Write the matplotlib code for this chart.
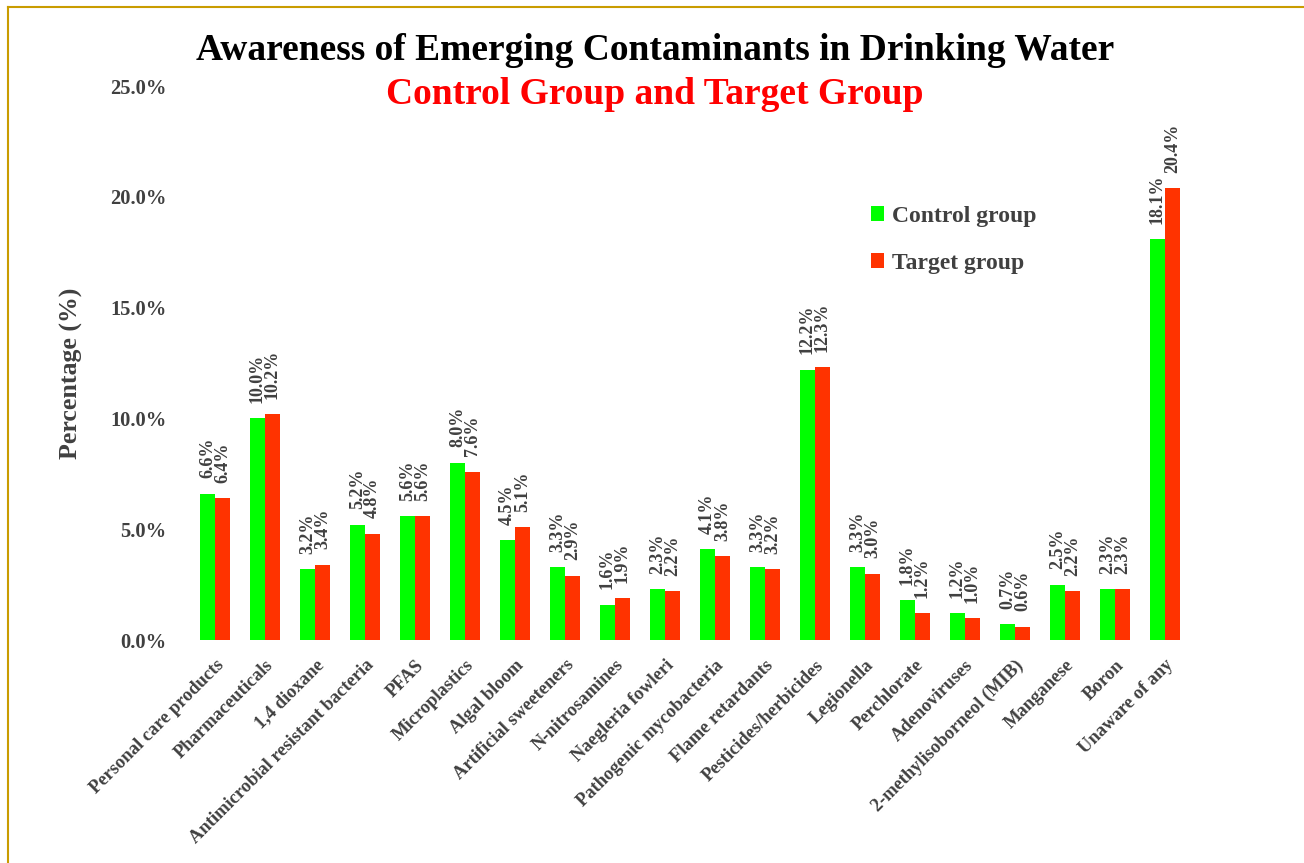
import numpy as np
import matplotlib.pyplot as plt
from matplotlib.lines import Line2D

# Data
categories = ["Personal care products", "Pharmaceuticals", "1,4 dioxane",
              "Antimicrobial resistant bacteria", "PFAS", "Microplastics",
              "Algal bloom", "Artificial sweeteners", "N-nitrosamines",
              "Naegleria fowleri", "Pathogenic mycobacteria", "Flame retardants",
              "Pesticides/herbicides", "Legionella", "Perchlorate", "Adenoviruses",
              "2-methylisoborneol (MIB)", "Manganese", "Boron", "Unaware of any"]
control = [6.6, 10.0, 3.2, 5.2, 5.6, 8.0, 4.5, 3.3, 1.6, 2.3,
           4.1, 3.3, 12.2, 3.3, 1.8, 1.2, 0.7, 2.5, 2.3, 18.1]
target = [6.4, 10.2, 3.4, 4.8, 5.6, 7.6, 5.1, 2.9, 1.9, 2.2,
          3.8, 3.2, 12.3, 3.0, 1.2, 1.0, 0.6, 2.2, 2.3, 20.4]
yticks = [0, 5, 10, 15, 20, 25]

plt.rcParams['font.family'] = ['Liberation Serif', 'DejaVu Serif']
plt.rcParams['font.weight'] = 'bold'
grey = '#404040'

W, H = 1304, 863
fig = plt.figure(figsize=(W / 100, H / 100), dpi=100)
ax = fig.add_axes([190 / W, (H - 640) / H, 1000 / W, (640 - 86) / H])

x = np.arange(len(categories))
w = 0.3
b1 = ax.bar(x - w / 2, control, w, color='#00FF00', label='Control group')
b2 = ax.bar(x + w / 2, target, w, color='#FF3300', label='Target group')

for bars, vals in ((b1, control), (b2, target)):
    for r, v in zip(bars, vals):
        ax.annotate(f"{v:.1f}%", (r.get_x() + r.get_width() / 2, v),
                    xytext=(0, 11), textcoords='offset points',
                    rotation=90, ha='center', va='bottom', fontsize=13,
                    fontweight='bold', color=grey)

ax.set_xlim(-0.5, len(categories) - 0.5)
ax.set_ylim(0, 25)
ax.set_yticks(yticks)
ax.set_yticklabels([f"{t:.1f}%" for t in yticks], fontsize=14.8, fontweight='bold', color=grey)
ax.set_xticks(x)
ax.set_xticklabels(categories, rotation=45, ha='right', rotation_mode='anchor',
                   fontsize=13.3, fontweight='bold', color=grey)
ax.tick_params(axis='both', length=0)
ax.tick_params(axis='y', pad=17)
ax.tick_params(axis='x', pad=12)
for s in ax.spines.values():
    s.set_visible(False)

ax.set_ylabel("Percentage (%)", fontsize=18.6, fontweight='bold', color=grey)
ax.yaxis.set_label_coords(-0.107, 0.482)

leg = ax.legend(loc='upper left', bbox_to_anchor=(0.66, 0.822), frameon=False,
                fontsize=17, labelspacing=1.1, handlelength=0.55, handleheight=0.55,
                handletextpad=0.35)
for t in leg.get_texts():
    t.set_color(grey)

fig.text(655 / W, 1 - 50 / H, "Awareness of Emerging Contaminants in Drinking Water",
         ha='center', va='center', fontsize=27, fontweight='bold', color='black')
fig.text(655 / W, 1 - 95 / H, "Control Group and Target Group",
         ha='center', va='center', fontsize=27, fontweight='bold', color='#FF0000')

# gold frame on left and top
fig.add_artist(Line2D([7.5 / W, 7.5 / W], [0, 1 - 7.5 / H], color='#C99C00', lw=1.5,
                      transform=fig.transFigure))
fig.add_artist(Line2D([7.5 / W, 1], [1 - 7.5 / H, 1 - 7.5 / H], color='#C99C00', lw=1.5,
                      transform=fig.transFigure))

fig.savefig('out.png', dpi=100)
